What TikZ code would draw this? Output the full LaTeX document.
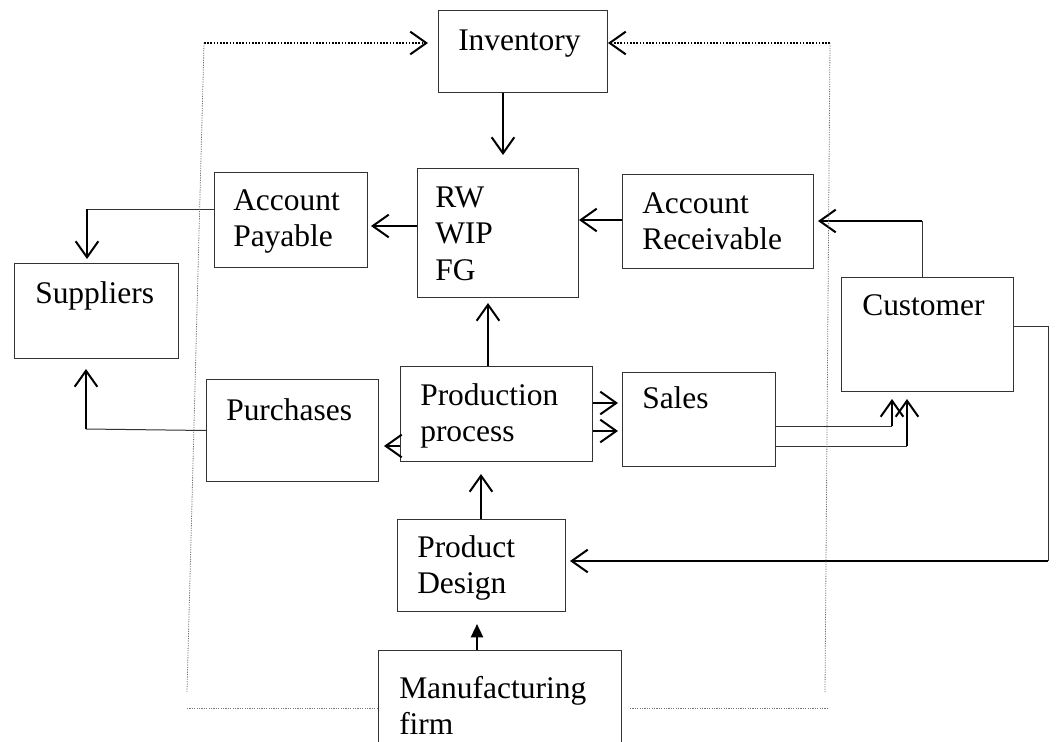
\documentclass[tikz,border=0pt]{standalone}
\usepackage{fontspec}
\setmainfont{Liberation Serif}
\usetikzlibrary{arrows.meta}
\newcommand{\mlines}[1]{\begin{tabular}[t]{@{}l@{}}#1\end{tabular}}
\begin{document}
\begin{tikzpicture}[x=0.75pt,y=-0.75pt,
  box/.style={draw=black!80, line width=0.75pt, inner sep=0pt, anchor=north west},
  sz/.style 2 args={minimum width=#1*0.75pt, minimum height=#2*0.75pt},
  txt/.style={anchor=base west, inner sep=0pt, font=\fontsize{23.6pt}{27.4pt}\selectfont},
  openhead/.style={-{Straight Barb[length=12pt,width=17pt,line width=1.5pt]}},
  arr/.style={line width=1.7pt, openhead},
  conn/.style={line width=0.75pt, draw=black!80},
  fillarr/.style={line width=1.7pt, -{Triangle[length=10pt,width=9pt]}},
  dotarr/.style={line width=1.5pt, dash pattern=on 1.2pt off 1.2pt, openhead},
  frame/.style={draw=black!55, line width=0.6pt, dash pattern=on 0.9pt off 0.9pt},
]
\useasboundingbox (0,0) rectangle (1057,742);
\clip (0,0) rectangle (1057,742);

% boxes
\node[box, sz={169}{82}]  (inv)   at (438,10)  {};
\node[box, sz={153}{95}]  (ap)    at (214,172) {};
\node[box, sz={161}{129}] (rw)    at (417,168) {};
\node[box, sz={191}{94}]  (ar)    at (622,174) {};
\node[box, sz={164}{95}]  (sup)   at (14,263)  {};
\node[box, sz={172}{114}] (cust)  at (841,277) {};
\node[box, sz={172}{102}] (pur)   at (206,379) {};
\node[box, sz={192}{95}]  (prod)  at (400,366) {};
\node[box, sz={153}{94}]  (sales) at (622,372) {};
\node[box, sz={168}{92}]  (pd)    at (397,519) {};
\node[box, sz={243}{130}] (mf)    at (378,650) {};

% texts
\node[txt] (invt)   at (458,51)  {Inventory};
\node[txt] (apt)    at (233,210) {\mlines{Account\\Payable}};
\node[txt] (rwt)    at (435,207) {\mlines{RW\\WIP\\FG}};
\node[txt] (art)    at (642,213) {\mlines{Account\\Receivable}};
\node[txt] (supt)   at (35,303)  {Suppliers};
\node[txt] (custt)  at (862,315) {Customer};
\node[txt] (purt)   at (226,420) {Purchases};
\node[txt] (prodt)  at (420,405) {\mlines{Production\\process}};
\node[txt] (salest) at (642,408) {Sales};
\node[txt] (pdt)    at (417,557) {\mlines{Product\\Design}};
\node[txt] (mft)    at (399,698) {\mlines{Manufacturing\\firm}};

% helper coordinates
\coordinate (xinv) at (503,0);
\coordinate (yrwap) at (0,226);
\coordinate (yarrw) at (0,220);
\coordinate (cAR) at (922,221);
\coordinate (cAP) at (87,209);
\coordinate (cPS) at (86,429);
\coordinate (ypp) at (0,446);
\coordinate (yps1) at (0,403);
\coordinate (yps2) at (0,431);
\coordinate (xpr) at (488,0);
\coordinate (cSC1) at (892,426);
\coordinate (cSC2) at (907,446);
\coordinate (cCP1) at (1048,326);
\coordinate (cCP2) at (1048,561);
\coordinate (xpd) at (481,0);
\coordinate (xmf) at (477,0);
\coordinate (tl) at (204,43);
\coordinate (tr) at (830,43);
\coordinate (bl) at (187,692);
\coordinate (br) at (825,692);
\coordinate (hl) at (187,708);
\coordinate (hr1) at (630,708);
\coordinate (hr2) at (827,708);

% connectors
\draw[arr, shorten >=9.75pt] (inv.south -| xinv) -- (rw.north -| xinv);
\draw[arr, shorten >=2.25pt] (rw.west |- yrwap) -- (ap.east |- yrwap);
\draw[arr] (ar.west |- yarrw) -- (rw.east |- yarrw);
\draw[conn] (cust.north -| cAR) -- (cAR);
\draw[arr, shorten >=3pt] (cAR) -- (ar.east |- cAR);
\draw[conn] (ap.west |- cAP) -- (cAP);
\draw[arr, shorten >=3pt] (cAP) -- (sup.north -| cAP);
\draw[conn] (pur.west) -- (cPS);
\draw[arr, shorten >=7.5pt] (cPS) -- (sup.south -| cPS);
\draw[arr, shorten >=3.75pt] (prod.west |- ypp) -- (pur.east |- ypp);
\draw[arr, shorten >=3pt] (prod.east |- yps1) -- (sales.west |- yps1);
\draw[arr, shorten >=3pt] (prod.east |- yps2) -- (sales.west |- yps2);
\draw[arr, shorten >=3.75pt] (prod.north -| xpr) -- (rw.south -| xpr);
\draw[conn] (sales.east |- cSC1) -- (cSC1);
\draw[arr, shorten >=5.25pt] (cSC1) -- (cust.south -| cSC1);
\draw[conn] (sales.east |- cSC2) -- (cSC2);
\draw[arr, shorten >=5.25pt] (cSC2) -- (cust.south -| cSC2);
\draw[conn] (cust.east |- cCP1) -- (cCP1) -- (cCP2);
\draw[arr, shorten >=3pt] (cCP2) -- (pd.east |- cCP2);
\draw[arr, shorten >=9pt] (pd.north -| xpd) -- (prod.south -| xpd);
\draw[fillarr, shorten >=9pt] (mf.north -| xmf) -- (pd.south -| xmf);

% frame of the firm
\draw[dotarr, shorten >=7.5pt] (tl) -- (inv.west |- tl);
\draw[dotarr] (tr) -- (inv.east |- tr);
\draw[frame] (tl) -- (bl);
\draw[frame] (tr) -- (br);
\draw[frame] (hl) -- (mf.west |- hl);
\draw[frame] (hr1) -- (hr2);
\end{tikzpicture}
\end{document}
